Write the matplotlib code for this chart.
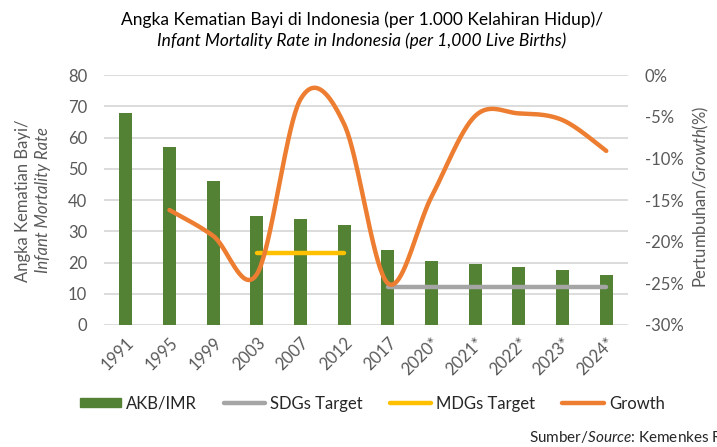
import numpy as np
import matplotlib
matplotlib.use("Agg")
import matplotlib.pyplot as plt
from matplotlib.patches import Patch
from matplotlib.lines import Line2D

plt.rcParams['font.family'] = ['Lato', 'DejaVu Sans']
plt.rcParams['mathtext.fontset'] = 'custom'
plt.rcParams['mathtext.rm'] = 'Lato'
plt.rcParams['mathtext.it'] = 'Lato:italic'

years = ['1991', '1995', '1999', '2003', '2007', '2012', '2017',
         '2020*', '2021*', '2022*', '2023*', '2024*']
imr = [68, 57, 46, 35, 34, 32, 24, 20.5, 19.5, 18.6, 17.6, 16]
growth = [None, -16.2, -19.3, -23.9, -2.9, -5.9, -25.0, -14.6, -4.9, -4.6, -5.4, -9.1]
mdg_years = ['2003', '2007', '2012']
mdg_target = [23, 23, 23]
sdg_years = ['2017', '2020*', '2021*', '2022*', '2023*', '2024*']
sdg_target = [12, 12, 12, 12, 12, 12]

GREEN = '#548235'
ORANGE = '#ED7D31'
GREY = '#A5A5A5'
YELLOW = '#FFC000'
TXT = '#595959'


def smooth(xs, ys, n=40):
    # catmull-rom style bezier, like excel's smoothed line
    xs = np.asarray(xs, float)
    ys = np.asarray(ys, float)
    px, py = [], []
    for i in range(len(xs) - 1):
        i0 = max(i - 1, 0)
        i3 = min(i + 2, len(xs) - 1)
        p0, p1, p2, p3 = [np.array([xs[k], ys[k]]) for k in (i0, i, i + 1, i3)]
        b1 = p1 + (p2 - p0) / 6
        b2 = p2 - (p3 - p1) / 6
        t = np.linspace(0, 1, n)[:, None]
        pts = ((1 - t) ** 3) * p1 + 3 * ((1 - t) ** 2) * t * b1 + 3 * (1 - t) * t ** 2 * b2 + t ** 3 * p2
        px.extend(pts[:, 0])
        py.extend(pts[:, 1])
    return np.array(px), np.array(py)


fig = plt.figure(figsize=(7.17, 4.47), dpi=100)
ax = fig.add_axes([0.145, 0.273, 0.731, 0.559])
x = np.arange(len(years))

ax.bar(x, imr, width=0.3, color=GREEN, zorder=2)
ax.plot([years.index(y) for y in mdg_years], mdg_target, color=YELLOW, lw=3.2,
        solid_capstyle='round', zorder=3)
ax.plot([years.index(y) for y in sdg_years], sdg_target, color=GREY, lw=3.2,
        solid_capstyle='round', zorder=3)

ax.set_xlim(-0.5, len(years) - 0.5)
ax.set_ylim(0, 80)
ax.set_yticks(range(0, 81, 10))
ax.grid(axis='y', color='#D9D9D9', lw=1.3, zorder=0)
ax.set_axisbelow(True)
for s in ax.spines.values():
    s.set_visible(False)
ax.tick_params(length=0, labelsize=12, colors=TXT, pad=12)
ax.set_xticks(x)
ax.set_xticklabels(years, rotation=45, ha='right', rotation_mode='anchor')
ax.tick_params(axis='x', pad=7)

ax2 = ax.twinx()
gx = [i for i, g in enumerate(growth) if g is not None]
gy = [g for g in growth if g is not None]
sx, sy = smooth(gx, gy)
ax2.plot(sx, sy, color=ORANGE, lw=3.2, solid_capstyle='round', zorder=4)
ax2.set_ylim(-30, 0)
ax2.set_yticks(range(-30, 1, 5))
ax2.set_yticklabels([f'{v}%' for v in range(-30, 1, 5)])
for s in ax2.spines.values():
    s.set_visible(False)
ax2.tick_params(length=0, labelsize=12, colors=TXT, pad=12)

fig.text(0.505, 0.955, 'Angka Kematian Bayi di Indonesia (per 1.000 Kelahiran Hidup)/',
         ha='center', va='center', fontsize=12.5, color='black')
fig.text(0.505, 0.91, 'Infant Mortality Rate in Indonesia (per 1,000 Live Births)',
         ha='center', va='center', fontsize=12.5, style='italic', color='black')

fig.text(0.032, 0.552, 'Angka Kematian Bayi/', rotation=90, ha='center', va='center',
         fontsize=12, color=TXT)
fig.text(0.06, 0.552, 'Infant Mortality Rate', rotation=90, ha='center', va='center',
         fontsize=12, style='italic', color=TXT)
fig.text(0.978, 0.56, r'Pertumbuhan/$Growth$(%)', rotation=90, ha='center', va='center',
         fontsize=12, color=TXT)

handles = [Patch(color=GREEN), Line2D([], [], color=GREY, lw=3.2, solid_capstyle='round'),
           Line2D([], [], color=YELLOW, lw=3.2, solid_capstyle='round'),
           Line2D([], [], color=ORANGE, lw=3.2, solid_capstyle='round')]
fig.legend(handles, ['AKB/IMR', 'SDGs Target', 'MDGs Target', 'Growth'],
           loc='center', bbox_to_anchor=(0.519, 0.097), ncol=4, frameon=False,
           fontsize=12, handlelength=2.5, handleheight=0.5, handletextpad=0.3,
           columnspacing=1.6, labelcolor='#262626')

fig.text(0.738, 0.022, r'Sumber/$Source$: Kemenkes RI', ha='left', va='center',
         fontsize=11, color='#262626')

fig.savefig('out.png', dpi=100)
